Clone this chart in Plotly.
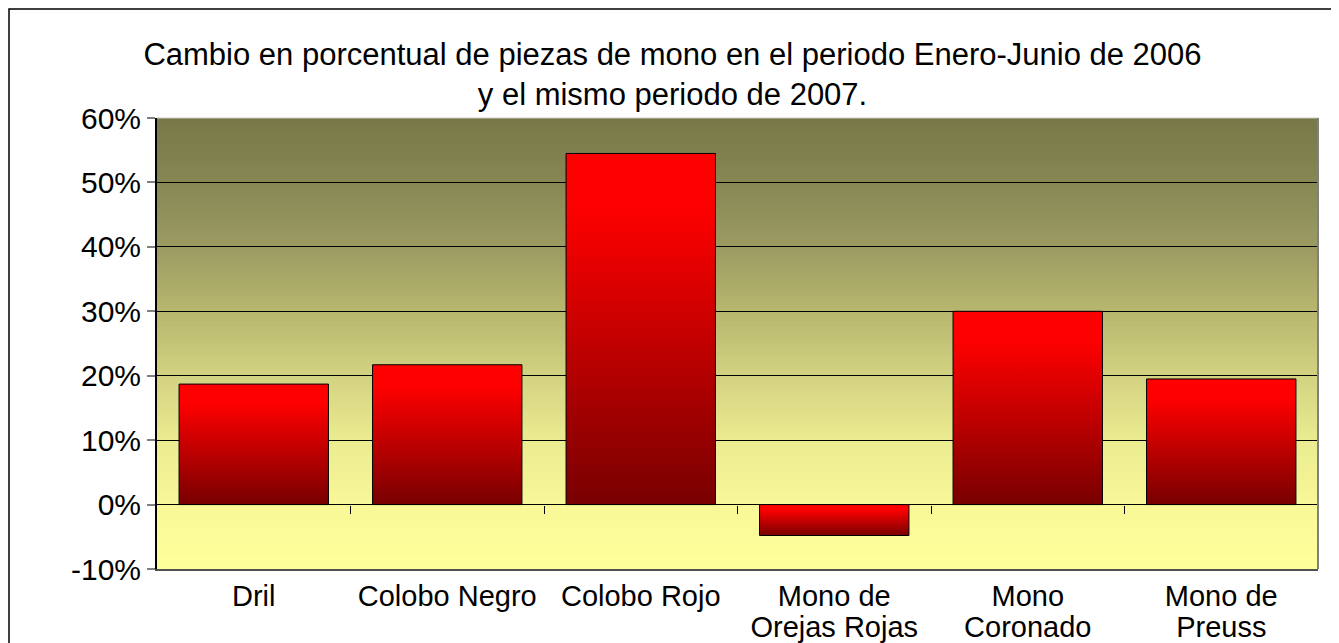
import plotly.graph_objects as go

categories = ["Dril", "Colobo Negro", "Colobo Rojo", "Mono de", "Mono", "Mono de"]
categories_line2 = ["", "", "", "Orejas Rojas", "Coronado", "Preuss"]
values = [18.7, 21.7, 54.5, -4.8, 30.0, 19.5]
y_ticks = [-10, 0, 10, 20, 30, 40, 50, 60]
y_ticktext = [f"{v}%" for v in y_ticks]
title_text = "Cambio en porcentual de piezas de mono en el periodo Enero-Junio de 2006<br>y el mismo periodo de 2007."

FONT = "Arial, Liberation Sans, sans-serif"
W, H = 1339, 643
ML, MR, MT, MB = 149, 29, 110, 82
YMIN, YMAX = -10, 60
HALF = 0.386

bg_stops = [(-10, (255, 255, 155)), (0, (248, 248, 152)), (10, (235, 235, 145)),
            (20, (210, 210, 130)), (30, (183, 183, 110)), (40, (155, 155, 98)),
            (50, (135, 135, 85)), (60, (120, 120, 72))]


def bg_color(v):
    for (a, ca), (b, cb) in zip(bg_stops[:-1], bg_stops[1:]):
        if a <= v <= b:
            t = (v - a) / (b - a)
            c = [round(ca[k] + (cb[k] - ca[k]) * t) for k in range(3)]
            return f"rgb({c[0]},{c[1]},{c[2]})"
    return "rgb(255,255,155)"


fig = go.Figure()

bar_scale = [[0, "#780000"], [0.85, "#ff0000"], [1, "#ff0000"]]
for i, v in enumerate(values):
    x0, x1 = i - HALF, i + HALF
    fig.add_trace(go.Scatter(
        x=[x0, x1, x1, x0, x0], y=[0, 0, v, v, 0],
        mode="lines", fill="toself",
        fillgradient=dict(type="vertical", colorscale=bar_scale),
        line=dict(color="black", width=1),
        hoverinfo="skip", showlegend=False,
    ))

# invisible traces to realise the helper axes
for ax in ("x2", "x3"):
    fig.add_trace(go.Scatter(x=[0], y=[0], xaxis=ax, mode="markers",
                             marker=dict(opacity=0), hoverinfo="skip", showlegend=False))

shapes = []
n = 140
step = (YMAX - YMIN) / n
for k in range(n):
    y0 = YMIN + k * step
    y1 = min(y0 + step * 1.6, YMAX)
    shapes.append(dict(type="rect", xref="paper", yref="y", x0=0, x1=1, y0=y0, y1=y1,
                       fillcolor=bg_color(y0 + step / 2), line=dict(width=0), layer="below"))
# plot frame: top and right
shapes.append(dict(type="line", xref="paper", yref="paper", x0=0, x1=1, y0=1, y1=1,
                   line=dict(color="#c8c8c8", width=1)))
shapes.append(dict(type="line", xref="paper", yref="paper", x0=1, x1=1, y0=0, y1=1,
                   line=dict(color="#808080", width=2)))
# outer chart border
pw, ph = W - ML - MR, H - MT - MB
shapes.append(dict(type="rect", xref="paper", yref="paper",
                   x0=(1 - ML) / pw, x1=(1329 - ML) / pw,
                   y0=-(MB + 40) / ph, y1=(H - MB - 1) / ph,
                   line=dict(color="black", width=1.5), fillcolor="rgba(0,0,0,0)", layer="above"))

fig.update_layout(
    width=W, height=H,
    margin=dict(l=ML, r=MR, t=MT, b=MB, autoexpand=False),
    paper_bgcolor="white", plot_bgcolor="rgba(0,0,0,0)",
    font=dict(family=FONT, size=29, color="black"),
    title=dict(text=title_text, x=664.5 / W, xanchor="center", y=1 - 57 / H, yanchor="middle",
               font=dict(family=FONT, size=31, color="black"), automargin=False),
    shapes=shapes,
    xaxis=dict(range=[-0.5, 5.5], tickvals=list(range(len(categories))), ticktext=categories,
               ticks="", showgrid=False, zeroline=False, automargin=False,
               showline=True, linecolor="#505050", linewidth=2,
               tickfont=dict(size=29)),
    xaxis2=dict(matches="x", overlaying="x", anchor="free",
                position=(0 - YMIN) / (YMAX - YMIN), automargin=False,
                tickvals=[i + 0.5 for i in range(len(categories) - 1)],
                ticks="outside", ticklen=8, tickcolor="black", tickwidth=1,
                showticklabels=False, showgrid=False, zeroline=False, showline=False),
    xaxis3=dict(matches="x", overlaying="x", anchor="y", side="bottom", automargin=False,
                tickvals=list(range(len(categories))), ticktext=categories_line2,
                ticks="", ticklabelstandoff=38, showgrid=False, zeroline=False, showline=False,
                tickfont=dict(size=29)),
    yaxis=dict(range=[YMIN, YMAX], tickvals=y_ticks, ticktext=y_ticktext, automargin=False,
               ticks="outside", ticklen=8, tickcolor="#808080", tickwidth=2,
               showgrid=True, gridcolor="black", gridwidth=1,
               zeroline=True, zerolinecolor="black", zerolinewidth=1,
               showline=True, linecolor="black", linewidth=2,
               tickfont=dict(size=30)),
)

fig.write_html("out.html")
